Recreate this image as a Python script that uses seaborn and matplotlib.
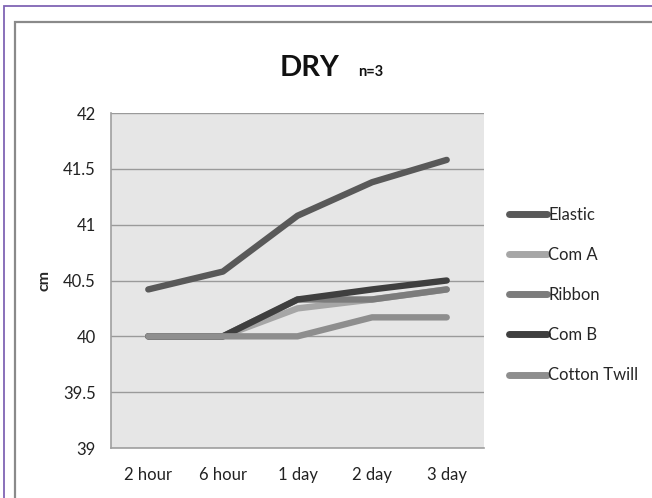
"""Recreate the DRY n=3 length chart (cm over time) with seaborn."""

import matplotlib

matplotlib.use("Agg")
import matplotlib.pyplot as plt
import pandas as pd
import seaborn as sns
from matplotlib.lines import Line2D
from matplotlib.patches import Rectangle

TIMES = ["2 hour", "6 hour", "1 day", "2 day", "3 day"]
SERIES = ["Elastic", "Com A", "Ribbon", "Com B", "Cotton Twill"]
ELASTIC = [40.42, 40.58, 41.08, 41.38, 41.58]
COM_A = [40.0, 40.0, 40.25, 40.33, 40.42]
RIBBON = [40.0, 40.0, 40.33, 40.33, 40.42]
COM_B = [40.0, 40.0, 40.33, 40.42, 40.5]
COTTON_TWILL = [40.0, 40.0, 40.0, 40.17, 40.17]
COLORS = ["#595959", "#a6a6a6", "#7c7c7c", "#3f3f3f", "#8e8e8e"]
Y_TICKS = [39, 39.5, 40, 40.5, 41, 41.5, 42]
Y_LABELS = ["39", "39.5", "40", "40.5", "41", "41.5", "42"]

FONT = ["Lato", "DejaVu Sans"]


def main() -> None:
    sns.set_style("white")
    plt.rcParams["font.family"] = FONT

    values = [ELASTIC, COM_A, RIBBON, COM_B, COTTON_TWILL]
    rows = []
    for name, vals in zip(SERIES, values):
        for i, v in enumerate(vals):
            rows.append({"series": name, "pos": i, "cm": v})
    df = pd.DataFrame(rows)
    palette = dict(zip(SERIES, COLORS))

    fig = plt.figure(figsize=(6.52, 4.98), dpi=100)
    # outer frames (they run off the right and bottom edge in the original)
    fig.patches.append(Rectangle((3.5 / 652, -0.1), 1.2, (498 - 6.5) / 498 + 0.1,
                                 transform=fig.transFigure, fill=False,
                                 edgecolor="#8064b4", linewidth=1.3))
    fig.patches.append(Rectangle((14.5 / 652, -0.1), 1.2, (498 - 22.5) / 498 + 0.1,
                                 transform=fig.transFigure, fill=False,
                                 edgecolor="#8a8a8a", linewidth=1.6))

    ax = fig.add_axes([111 / 652, 50 / 498, 373 / 652, 335 / 498])
    ax.set_facecolor("#e6e6e6")

    sns.lineplot(data=df, x="pos", y="cm", hue="series", hue_order=SERIES,
                 palette=palette, linewidth=4.6, legend=False, ax=ax,
                 solid_capstyle="round", solid_joinstyle="round", zorder=3)

    ax.set_xlim(-0.5, 4.5)
    ax.set_ylim(39, 42)
    ax.set_xticks(range(len(TIMES)))
    ax.set_xticklabels(TIMES)
    ax.set_yticks(Y_TICKS)
    ax.set_yticklabels(Y_LABELS)
    ax.tick_params(axis="both", length=0, labelsize=12, colors="#222222")
    ax.tick_params(axis="y", pad=11)
    ax.tick_params(axis="x", pad=14)
    ax.yaxis.grid(True, color="#9a9a9a", linewidth=1.0, zorder=1)
    ax.set_axisbelow(True)
    for side in ["top", "right"]:
        ax.spines[side].set_visible(False)
    for side in ["left", "bottom"]:
        ax.spines[side].set_color("#a0a0a0")
        ax.spines[side].set_linewidth(1.2)
    ax.set_xlabel("")
    ax.set_ylabel("cm", fontsize=11.5, fontweight="bold", labelpad=8)

    fig.text(310 / 652, 1 - 76 / 498, "DRY", ha="center", va="baseline",
             fontsize=21, fontweight="bold", color="#111111")
    fig.text(358 / 652, 1 - 76 / 498, "n=3", ha="left", va="baseline",
             fontsize=10.5, fontweight="bold", color="#111111")

    handles = [Line2D([], [], color=c, linewidth=5, solid_capstyle="round")
               for c in COLORS]
    ax.legend(handles, SERIES, loc="center left",
              bbox_to_anchor=(509 / 652, 1 - 295 / 498),
              bbox_transform=fig.transFigure, frameon=False, fontsize=12,
              handlelength=2.3, handletextpad=0.05, labelspacing=1.45,
              borderaxespad=0, borderpad=0)

    fig.savefig("out.png", dpi=100)
    plt.close(fig)


if __name__ == "__main__":
    main()
